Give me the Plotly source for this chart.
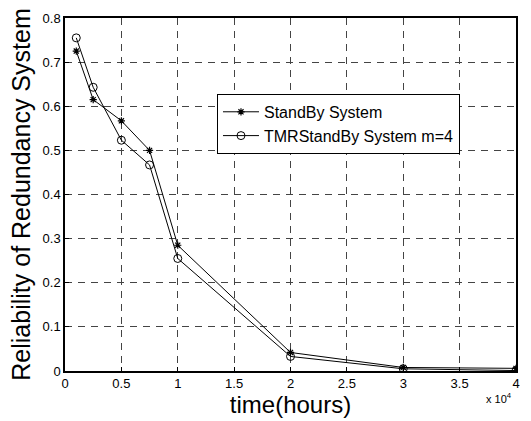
import plotly.graph_objects as go

time_hours = [1000, 2500, 5000, 7500, 10000, 20000, 30000, 40000]
standby = [0.725, 0.615, 0.567, 0.500, 0.285, 0.042, 0.008, 0.006]
tmr_standby = [0.755, 0.643, 0.523, 0.467, 0.255, 0.033, 0.005, 0.001]
x_tickvals = [0, 5000, 10000, 15000, 20000, 25000, 30000, 35000, 40000]
x_ticktext = ["0", "0.5", "1", "1.5", "2", "2.5", "3", "3.5", "4"]
y_tickvals = [0, 0.1, 0.2, 0.3, 0.4, 0.5, 0.6, 0.7, 0.8]
y_ticktext = ["0", "0.1", "0.2", "0.3", "0.4", "0.5", "0.6", "0.7", "0.8"]

FONT = "Liberation Sans, Arial, Helvetica, sans-serif"

fig = go.Figure()
fig.add_trace(go.Scatter(
    x=time_hours, y=standby, mode="lines+markers", name="StandBy System",
    line=dict(color="black", width=1),
    marker=dict(symbol="asterisk-open", size=6, color="black", line=dict(width=1.2, color="black")),
))
fig.add_trace(go.Scatter(
    x=time_hours, y=tmr_standby, mode="lines+markers", name="TMRStandBy System m=4",
    line=dict(color="black", width=1),
    marker=dict(symbol="circle-open", size=8, color="black", line=dict(width=1)),
))

axis_common = dict(
    showline=True, linecolor="black", linewidth=1.5, mirror=True,
    showgrid=True, gridcolor="#444444", gridwidth=1, griddash="7px,6px",
    ticks="inside", ticklen=4, tickcolor="black",
    zeroline=False, tickfont=dict(family=FONT, size=13, color="black"),
)

fig.update_layout(
    width=531, height=421,
    margin=dict(l=65, r=12, t=11, b=47),
    paper_bgcolor="white", plot_bgcolor="white",
    font=dict(family=FONT, color="black"),
    xaxis=dict(range=[0, 40000], tickmode="array", tickvals=x_tickvals, ticktext=x_ticktext,
               title=dict(text="time(hours)", font=dict(size=24, family=FONT), standoff=2),
               **axis_common),
    yaxis=dict(range=[0, 0.8], tickmode="array", tickvals=y_tickvals, ticktext=y_ticktext,
               title=dict(text="Reliability of Redundancy System", font=dict(size=25, family=FONT), standoff=5),
               **axis_common),
    legend=dict(x=0.337, y=0.785, xanchor="left", yanchor="top",
                bordercolor="black", borderwidth=1, bgcolor="white", itemwidth=36,
                font=dict(size=16, family=FONT), tracegroupgap=0),
    showlegend=True,
)

fig.add_annotation(
    text="x 10<sup>4</sup>", xref="paper", yref="paper", x=0.995, y=-0.05,
    xanchor="right", yanchor="top", showarrow=False,
    font=dict(size=11, family=FONT, color="black"),
)

fig.write_html("out.html")
